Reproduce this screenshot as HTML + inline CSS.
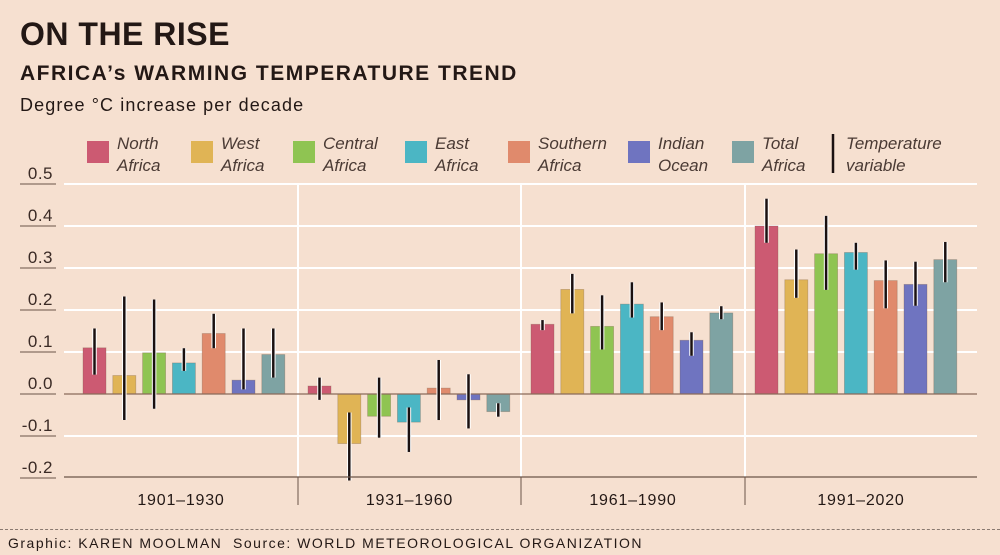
<!DOCTYPE html>
<html><head><meta charset="utf-8">
<style>
body{margin:0;background:#f6e0d0;}
#wrap{position:relative;width:1000px;height:555px;background:#f6e0d0;font-family:"Liberation Sans",sans-serif;color:#231815;overflow:hidden}
.t{position:absolute;white-space:nowrap}
</style></head><body>
<div id="wrap">
<div class="t" style="left:20px;top:16px;font-size:32px;font-weight:bold;letter-spacing:0.5px">ON THE RISE</div>
<div class="t" style="left:20px;top:62px;font-size:21px;font-weight:bold;letter-spacing:1.5px">AFRICA’s WARMING TEMPERATURE TREND</div>
<div class="t" style="left:20px;top:95px;font-size:18px;letter-spacing:1.1px">Degree °C increase per decade</div>
<svg id="svg" width="1000" height="555" style="position:absolute;left:0;top:0"></svg>
<div style="position:absolute;left:0;top:529px;width:1000px;border-top:1px dashed #8a7a70"></div>
<div class="t" style="left:8px;top:535px;font-size:14px;letter-spacing:1.5px">Graphic: KAREN MOOLMAN&nbsp; Source: WORLD METEOROLOGICAL ORGANIZATION</div>
</div>
<script>
const periods=["1901–1930","1931–1960","1961–1990","1991–2020"];
const regions=["North Africa","West Africa","Central Africa","East Africa","Southern Africa","Indian Ocean","Total Africa"];
const colors=["#cc5a72","#e0b455","#8fc452","#4bb6c4","#e08a6c","#6f74c0","#7ea3a3"];
const values=[
[0.11,0.044,0.098,0.074,0.144,0.033,0.094],
[0.019,-0.118,-0.053,-0.067,0.014,-0.014,-0.042],
[0.166,0.249,0.161,0.214,0.184,0.128,0.193],
[0.40,0.272,0.334,0.337,0.270,0.261,0.32]];
const errHi=[
[0.156,0.232,0.225,0.109,0.191,0.156,0.156],
[0.039,-0.044,0.039,-0.032,0.081,0.047,-0.022],
[0.176,0.286,0.235,0.266,0.218,0.147,0.209],
[0.465,0.344,0.424,0.36,0.318,0.315,0.362]];
const errLo=[
[0.046,-0.062,-0.035,0.055,0.109,0.011,0.039],
[-0.014,-0.206,-0.104,-0.138,-0.062,-0.082,-0.054],
[0.152,0.192,0.106,0.182,0.152,0.091,0.178],
[0.36,0.229,0.248,0.296,0.204,0.210,0.266]];
const yTicks=[0.5,0.4,0.3,0.2,0.1,0.0,-0.1,-0.2];
const legendLabels=[["North","Africa"],["West","Africa"],["Central","Africa"],["East","Africa"],["Southern","Africa"],["Indian","Ocean"],["Total","Africa"]];

const NS="http://www.w3.org/2000/svg";
const svg=document.getElementById('svg');
function el(t,a){const e=document.createElementNS(NS,t);for(const k in a)e.setAttribute(k,a[k]);svg.appendChild(e);return e;}
const y=v=>394-v*420;
const groupX=[64,298,521,745,977];
const gx=(g,i)=>groupX[g]+(g==0?19:10)+i*29.8;
yTicks.forEach(v=>{
  if(v!==0&&v!==-0.2){const l=el('line',{x1:64,x2:977,y1:y(v),y2:y(v),stroke:'#fff','stroke-width':2});
  
  }
  const u=el('line',{x1:20,x2:56,y1:y(v),y2:y(v),stroke:'#6b5548','stroke-width':1});
  
  
  const t=el('text',{x:53,y:y(v)-5,'text-anchor':'end','font-size':17,fill:'#3a2a25','font-family':'Liberation Sans, sans-serif','letter-spacing':0.5});
  t.textContent=v.toFixed(1);
  
  
});
[1,2,3].forEach(g=>{const l=el('line',{x1:groupX[g],x2:groupX[g],y1:184,y2:477,stroke:'#fff','stroke-width':2});

});
values.forEach((row,g)=>row.forEach((v,i)=>{
  const x=gx(g,i);
  const r=el('rect',{x:x,y:Math.min(y(v),y(0)),width:23,height:Math.abs(y(v)-y(0)),fill:colors[i],stroke:'rgba(120,90,70,0.35)','stroke-width':0.8});
  
  
}));
el('line',{x1:64,x2:977,y1:y(0),y2:y(0),stroke:'#8a6a5a','stroke-width':1.2});
values.forEach((row,g)=>row.forEach((v,i)=>{
  const x=gx(g,i)+11.5;
  el('line',{x1:x,x2:x,y1:y(errHi[g][i]),y2:y(errLo[g][i]),stroke:'#fff','stroke-width':4.5});
  const e=el('line',{x1:x,x2:x,y1:y(errHi[g][i]),y2:y(errLo[g][i]),stroke:'#1a1010','stroke-width':2.5});
  
  
}));
el('line',{x1:64,x2:977,y1:477,y2:477,stroke:'#6b5548','stroke-width':1.2});
[1,2,3].forEach(g=>el('line',{x1:groupX[g],x2:groupX[g],y1:477,y2:505,stroke:'#6b5548','stroke-width':1}));
periods.forEach((p,g)=>{
  const t=el('text',{x:(groupX[g]+groupX[g+1])/2,y:505,'text-anchor':'middle','font-size':16,fill:'#231815','font-family':'Liberation Sans, sans-serif','letter-spacing':0.8});
  t.textContent=p;
  
  
});
const lx=[87,191,293,405,508,628,732];
legendLabels.forEach((lab,i)=>{
  const r=el('rect',{x:lx[i],y:141,width:22,height:22,fill:colors[i]});
  
  
  lab.forEach((s,k)=>{const t=el('text',{x:lx[i]+30,y:149+k*22,'font-size':17,fill:'#4a3a34','font-style':'italic','font-family':'Liberation Sans, sans-serif'});t.textContent=s;
  
  });
});
const vl=el('line',{x1:833,x2:833,y1:134,y2:173,stroke:'#1a1010','stroke-width':2.5});


["Temperature","variable"].forEach((s,k)=>{const t=el('text',{x:846,y:149+k*22,'font-size':17,fill:'#4a3a34','font-style':'italic','font-family':'Liberation Sans, sans-serif'});t.textContent=s;

});
</script>
</body></html>
